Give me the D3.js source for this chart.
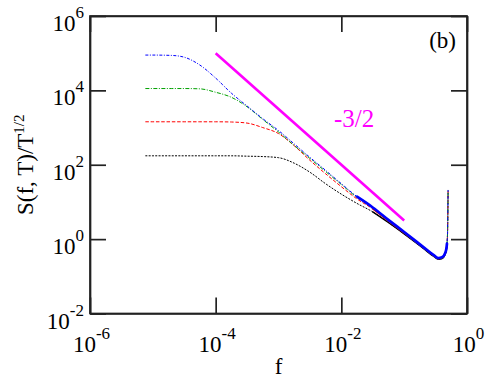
<!DOCTYPE html>
<html>
<head>
<meta charset="utf-8">
<script src="https://cdn.jsdelivr.net/npm/d3@7"></script>
<style>
  body { margin: 0; background: #fff; }
</style>
</head>
<body>
<div id="chart"></div>
<script>
// frequency grid
const freqs = [7.6e-6, 1e-5, 2e-5, 3.16e-5, 5.6e-5, 1e-4, 1.78e-4, 3.16e-4, 5.6e-4, 1e-3,
  1.78e-3, 3.16e-3, 5.6e-3, 1e-2, 1.78e-2, 3.16e-2, 5.6e-2, 0.1, 0.2, 0.3,
  0.35, 0.4, 0.45, 0.47, 0.48, 0.49, 0.5];

// S(f,T)/T^(1/2) for the four T values
const blackS = [174, 174, 174, 174, 174, 174, 174, 170, 166, 155,
  110, 63, 31, 16.2, 9.1, 5.4, 2.8, 1.38, 0.57, 0.335,
  0.285, 0.298, 0.392, 0.516, 0.69, 1.41, 19];
const redS = [1430, 1430, 1430, 1430, 1430, 1430, 1410, 1320, 1000, 690,
  324, 132, 57.5, 25.7, 12, 6.5, 3.1, 1.46, 0.595, 0.35,
  0.298, 0.312, 0.41, 0.54, 0.727, 1.45, 20];
const greenS = [11200, 11200, 11200, 11200, 11000, 8900, 6500, 3630, 1660, 760,
  330, 148, 66, 29.5, 13.2, 6.9, 3.24, 1.51, 0.60, 0.355,
  0.302, 0.316, 0.417, 0.55, 0.74, 1.48, 20.4];
const blueS = [89000, 89000, 87000, 78000, 48000, 21400, 8400, 3800, 1740, 832,
  363, 158, 71, 31, 13.8, 7.1, 3.3, 1.55, 0.62, 0.363,
  0.31, 0.324, 0.427, 0.56, 0.76, 1.5, 21];

// reference power law line
const slopeF = [1e-4, 1e-1];
const slopeS = [1e5, 3.16];

const xTicks = [1e-6, 1e-4, 1e-2, 1];
const xTickExp = ['-6', '-4', '-2', '0'];
const yTicks = [1e-2, 1, 1e2, 1e4, 1e6];
const yTickExp = ['-2', '0', '2', '4', '6'];

const width = 488, height = 378;
const plot = { left: 90, right: 467, top: 16, bottom: 313.5 };
const serif = "'Liberation Serif'";

const svg = d3.select('#chart').append('svg')
  .attr('width', width)
  .attr('height', height)
  .style('display', 'block');

const x = d3.scaleLog().domain([1e-6, 1]).range([plot.left, plot.right]);
const y = d3.scaleLog().domain([1e-2, 1e6]).range([plot.bottom, plot.top]);

const series = [
  { values: blackS, color: '#000000', dash: '2,1.3', tail: 1.4, from: 0.03 },
  { values: redS, color: '#ff0000', dash: '3.5,1.8', tail: 1.4, from: 0.03 },
  { values: greenS, color: '#00a000', dash: '4,1.5,1,1.5', tail: 1.4, from: 0.03 },
  { values: blueS, color: '#0000ff', dash: '3,1.5,1,1.5', tail: 2.7, from: 0.012 }
];

const line = d3.line()
  .x(d => x(d.f))
  .y(d => y(d.s))
  .curve(d3.curveMonotoneX);

const curves = svg.append('g');

series.forEach(s => {
  const pts = freqs.map((f, i) => ({ f: f, s: s.values[i] }));
  curves.append('path')
    .datum(pts)
    .attr('d', line)
    .attr('fill', 'none')
    .attr('stroke', s.color)
    .attr('stroke-width', 1)
    .attr('stroke-dasharray', s.dash);
});

// the high frequency part looks like a solid thick band
series.forEach(s => {
  const pts = freqs.map((f, i) => ({ f: f, s: s.values[i] }))
    .filter(d => d.f >= s.from && d.f <= 0.48);
  curves.append('path')
    .datum(pts)
    .attr('d', line)
    .attr('fill', 'none')
    .attr('stroke', s.color)
    .attr('stroke-width', s.tail)
    .attr('stroke-linecap', 'round');
});

// -3/2 slope line
svg.append('path')
  .datum(slopeF.map((f, i) => ({ f: f, s: slopeS[i] })))
  .attr('d', d3.line().x(d => x(d.f)).y(d => y(d.s)))
  .attr('stroke', '#ff00ff')
  .attr('stroke-width', 2.6)
  .attr('fill', 'none');

function label(xp, yp, size, anchor) {
  return svg.append('text')
    .attr('x', xp)
    .attr('y', yp)
    .attr('text-anchor', anchor)
    .style('font-family', serif)
    .style('font-size', size + 'px');
}

label(334, 126.5, 25, 'start').attr('fill', '#ff00ff').text('-3/2');

// frame + inward ticks
const tickLen = 16;
const axes = [
  svg.append('g').attr('transform', `translate(0,${plot.bottom})`)
    .call(d3.axisBottom(x).tickValues(xTicks).tickSize(-tickLen).tickSizeOuter(0).tickFormat('')),
  svg.append('g').attr('transform', `translate(0,${plot.top})`)
    .call(d3.axisTop(x).tickValues(xTicks).tickSize(-tickLen).tickSizeOuter(0).tickFormat('')),
  svg.append('g').attr('transform', `translate(${plot.left},0)`)
    .call(d3.axisLeft(y).tickValues(yTicks).tickSize(-tickLen).tickSizeOuter(0).tickFormat('')),
  svg.append('g').attr('transform', `translate(${plot.right},0)`)
    .call(d3.axisRight(y).tickValues(yTicks).tickSize(-tickLen).tickSizeOuter(0).tickFormat(''))
];
axes.forEach(a => {
  a.selectAll('path, line').attr('stroke', '#222').attr('stroke-width', 1.7);
});
svg.append('rect')
  .attr('x', plot.left).attr('y', plot.top)
  .attr('width', plot.right - plot.left)
  .attr('height', plot.bottom - plot.top)
  .attr('fill', 'none')
  .attr('stroke', '#222')
  .attr('stroke-width', 1.7);

// tick labels
xTicks.forEach((v, i) => {
  const t = label(x(v) + 1.5, 352, 23, 'middle').text('10');
  t.append('tspan').attr('dy', -13).style('font-size', '17px').text(xTickExp[i]);
});

yTicks.forEach((v, i) => {
  const t = label(84, y(v) + 15, 23, 'end').text('10');
  t.append('tspan').attr('dy', -13).style('font-size', '17px').text(yTickExp[i]);
});

// axis titles
label((plot.left + plot.right) / 2, 374, 23, 'middle').text('f');

const yTitle = label(0, 0, 23, 'middle')
  .attr('transform', `translate(33,${(plot.top + plot.bottom) / 2}) rotate(-90)`)
  .text('S(f, T)/T');
yTitle.append('tspan').attr('dy', -9).style('font-size', '15px').text('1/2');

label(456, 48, 23, 'end').text('(b)');
</script>
</body>
</html>
